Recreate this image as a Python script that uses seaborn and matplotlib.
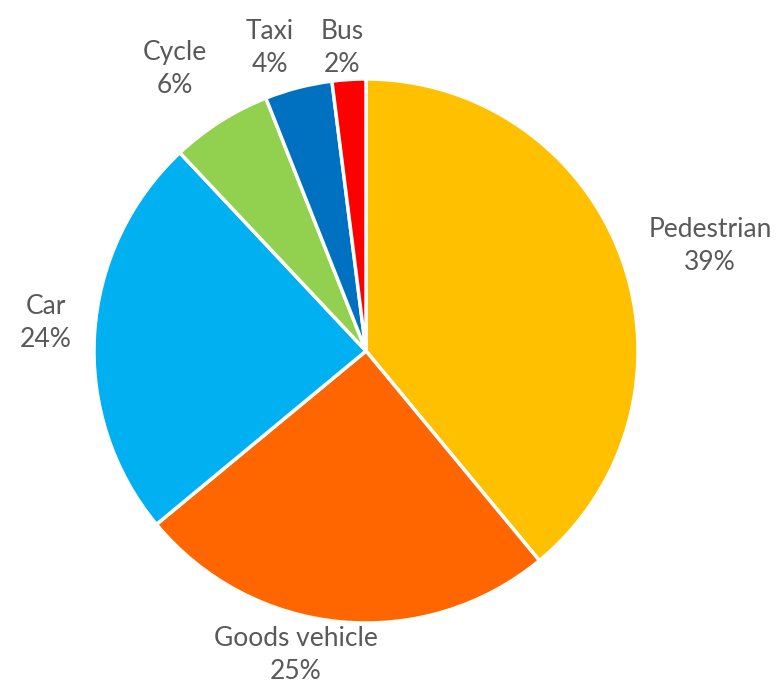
import matplotlib
matplotlib.use("Agg")
import matplotlib.pyplot as plt
import seaborn as sns
import numpy as np

sns.set_theme(style="white")
plt.rcParams['font.family'] = ['Lato', 'DejaVu Sans']

categories = ["Pedestrian", "Goods vehicle", "Car", "Cycle", "Taxi", "Bus"]
values = [39, 25, 24, 6, 4, 2]
colors = ["#FFC000", "#FF6600", "#00B0F0", "#92D050", "#0070C0", "#FF0000"]

# label placement (pixel positions in figure space), styling only
label_pos = {
    "Pedestrian": (710, 689 - 246),
    "Goods vehicle": (296, 689 - 655),
    "Car": (46, 689 - 323),
    "Cycle": (175, 689 - 69),
    "Taxi": (270, 689 - 48),
    "Bus": (342, 689 - 48),
}

fig = plt.figure(figsize=(7.79, 6.89), dpi=100)
ax = fig.add_axes([0, 0, 1, 1])

wedges, _ = ax.pie(values, colors=colors, startangle=90, counterclock=False,
                   radius=272, center=(366, 689 - 351),
                   wedgeprops=dict(edgecolor="white", linewidth=2.5))
ax.set_xlim(0, 779)
ax.set_ylim(0, 689)
ax.set_aspect('equal')
ax.axis('off')

total = sum(values)
for cat, v in zip(categories, values):
    x, y = label_pos[cat]
    ax.text(x, y, f"{cat}\n{round(100 * v / total)}%", ha="center", va="center",
            fontsize=19, color="#595959", linespacing=1.38)

fig.savefig("out.png", dpi=100)
